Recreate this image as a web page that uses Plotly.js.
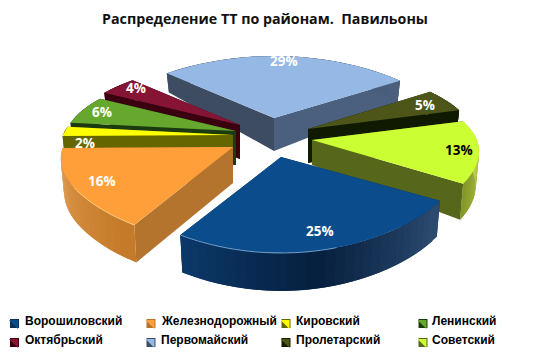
<!DOCTYPE html>
<html><head><meta charset="utf-8">
<script src="https://cdn.plot.ly/plotly-3.0.1.min.js"></script>
<style>html,body{margin:0;padding:0;background:#fff}#c{width:550px;height:357px}</style></head>
<body><div id="c"></div>
<script>
const categories = ["Ворошиловский","Железнодорожный","Кировский","Ленинский","Октябрьский","Первомайский","Пролетарский","Советский"];
const shares = [25,16,2,6,4,29,5,13];
const chartTitle = "Распределение ТТ по районам.  Павильоны";
const legendX = [14.5,151,286,423,14.5,151,286,423];
const legendY = [323.5,323.5,323.5,323.5,342.5,342.5,342.5,342.5];
const legendTextX = [23,158.5,294,430,23,158.5,294,430];
const legendTextY = [320.5,320.5,320.5,320.5,339.5,339.5,339.5,339.5];

const topColors = ["#0a4c8c","#ff9f3a","#ffff00","#66a82e","#861535","#95b8e5","#4d5519","#ccff33"];
const wallColorsA = ["#0e2f55","#b5742e","#666600","#1c3a10","#3a0010","#3d4c60","#0f1a00","#56661a"];
const wallColorsB = ["#0e2f55","#b5742e","#666600","#1c3a10","#3a0010","#4b607e","#0f1a00","#56661a"];
const outerFrom = ["#2a4a6e","#c47a28","#666600","#1c3a10","#3a0010","#3d4c60","#0f1a00","#d0e060"];
const outerMid = ["#061f3e","#d48c3e","#666600","#1c3a10","#3a0010","#44566f","#0f1a00","#a8bc40"];
const outerTo = ["#0c3a6c","#e6b070","#666600","#1c3a10","#3a0010","#4b607e","#0f1a00","#7f9426"];
const rimColors = ["#7fb0dc","#ffd488",null,null,null,null,null,null];
const rimStart = [.45,0,0,0,0,0,0,0];
const rimEnd = [1,.5,0,0,0,0,0,0];
const labelColors = ["#fff","#fff","#fff","#fff","#fff","#fff","#fff","#000"];
// where each exploded wedge's tip sits in the 550x357 frame
const tipX = [281,233,233,236,240,274,308,312];
const tipY = [157,147,135,131,125,118,129,140];
const tipDepth = [34,36,34,34,34,33,34,25];
const widthScale = [1.02,1,1,1,1,1,.97,.97];
const labelFrac = [.8,.84,.88,.86,.85,.93,.85,.88];
const labelDx = [3,2,0,-2,0,0,0,0];
const labelDy = [0,0,11,-1,-4,1,0,0];
const drawOrder = [5,4,6,3,2,7,1,0];
const startAngle = 121.6;

const rad = d => d*Math.PI/180;
function proj(th,sc){const u=Math.sin(rad(th)),v=-Math.cos(rad(th));
  const ry=v>0?75+11*v+10*v*v:75+13*v;
  return {x:(170+30*v-10*v*v)*u*sc,y:ry*v,v};}
function depth(v){return v>=0?34+4*v:34+22*v;}
function mix(a,b,t){const p=h=>[1,3,5].map(i=>parseInt(h.substr(i,2),16));const A=p(a),B=p(b);
  return "rgb("+A.map((c,i)=>Math.round(c+(B[i]-c)*t)).join(",")+")";}
function poly(xs,ys,color){return {type:"scatter",mode:"lines",x:[...xs,xs[0]],y:[...ys,ys[0]],fill:"toself",fillcolor:color,
  line:{color:color,width:0},hoverinfo:"skip",showlegend:false};}

const total = shares.reduce((a,b)=>a+b,0);
let acc = startAngle; const spans = shares.map(s=>{const r=[acc,acc+s/total*360];acc=r[1];return r;});
const traces=[], annotations=[];
drawOrder.forEach(i=>{
  const [a0,a1]=spans[i], ax=tipX[i], ay=tipY[i], n=Math.max(4,Math.ceil((a1-a0)/3));
  const arc=[];for(let k=0;k<=n;k++){const p=proj(a0+(a1-a0)*k/n,widthScale[i]);
    arc.push({x:ax+p.x,y:ay+p.y,bx:ax+p.x*.98,by:ay+p.y+depth(p.v)});}
  const c0=arc[0],c1=arc[n],td=tipDepth[i];
  traces.push(poly([ax,c0.x,c0.bx,ax],[ay,c0.y,c0.by,ay+td],wallColorsA[i]));
  traces.push(poly([ax,c1.x,c1.bx,ax],[ay,c1.y,c1.by,ay+td],wallColorsB[i]));
  for(let k=n-1;k>=0;k--){const p=arc[k],q=arc[Math.min(n,k+2)],t=k/(n-1||1);
    const col=t<.5?mix(outerFrom[i],outerMid[i],t*2):mix(outerMid[i],outerTo[i],t*2-1);
    traces.push(poly([p.x,q.x,q.bx,p.bx],[p.y,q.y,q.by,p.by],col));}
  traces.push(poly([ax,...arc.map(p=>p.x)],[ay,...arc.map(p=>p.y)],topColors[i]));
  if(rimColors[i]){const seg=arc.slice(Math.round(n*rimStart[i]),Math.round(n*rimEnd[i])+1);
    traces.push({type:"scatter",mode:"lines",x:seg.map(p=>p.x),y:seg.map(p=>p.y),line:{color:rimColors[i],width:1,shape:"spline"},opacity:.8,hoverinfo:"skip",showlegend:false});}
  const m=proj((a0+a1)/2,widthScale[i]);
  annotations.push({xref:"x",yref:"y",x:ax+m.x*labelFrac[i]+labelDx[i],y:ay+m.y*labelFrac[i]+labelDy[i],text:"<b>"+shares[i]+"%</b>",showarrow:false,
    font:{family:"Open Sans, sans-serif",size:13.5,color:labelColors[i]},xanchor:"center",yanchor:"middle"});
});
categories.forEach((name,i)=>{
  traces.push({type:"scatter",mode:"markers",name,x:[legendX[i]],y:[legendY[i]],hoverinfo:"name",showlegend:false,
    marker:{symbol:"square",size:9,color:wallColorsA[i]}});
  traces.push({type:"scatter",mode:"markers",x:[legendX[i]+.5],y:[legendY[i]-.5],hoverinfo:"skip",showlegend:false,
    marker:{symbol:"triangle-ne",size:10,color:topColors[i]}});
  annotations.push({xref:"x",yref:"y",x:legendTextX[i],y:legendTextY[i],text:"<b>"+name+"</b>",showarrow:false,xanchor:"left",yanchor:"middle",
    font:{family:"Liberation Sans, Arial, sans-serif",size:12,color:"#000"}});
});
Plotly.newPlot("c",traces,{
  width:550,height:357,margin:{l:0,r:0,t:0,b:0},paper_bgcolor:"#fff",plot_bgcolor:"#fff",showlegend:false,
  title:{text:"<b>"+chartTitle+"</b>",x:265/550,xanchor:"center",y:1-19/357,yanchor:"middle",font:{family:"Open Sans, sans-serif",size:14.25,color:"#111"}},
  xaxis:{range:[0,550],visible:false,fixedrange:true},
  yaxis:{range:[357,0],visible:false,fixedrange:true},
  annotations
},{displayModeBar:false,staticPlot:true});
</script></body></html>
